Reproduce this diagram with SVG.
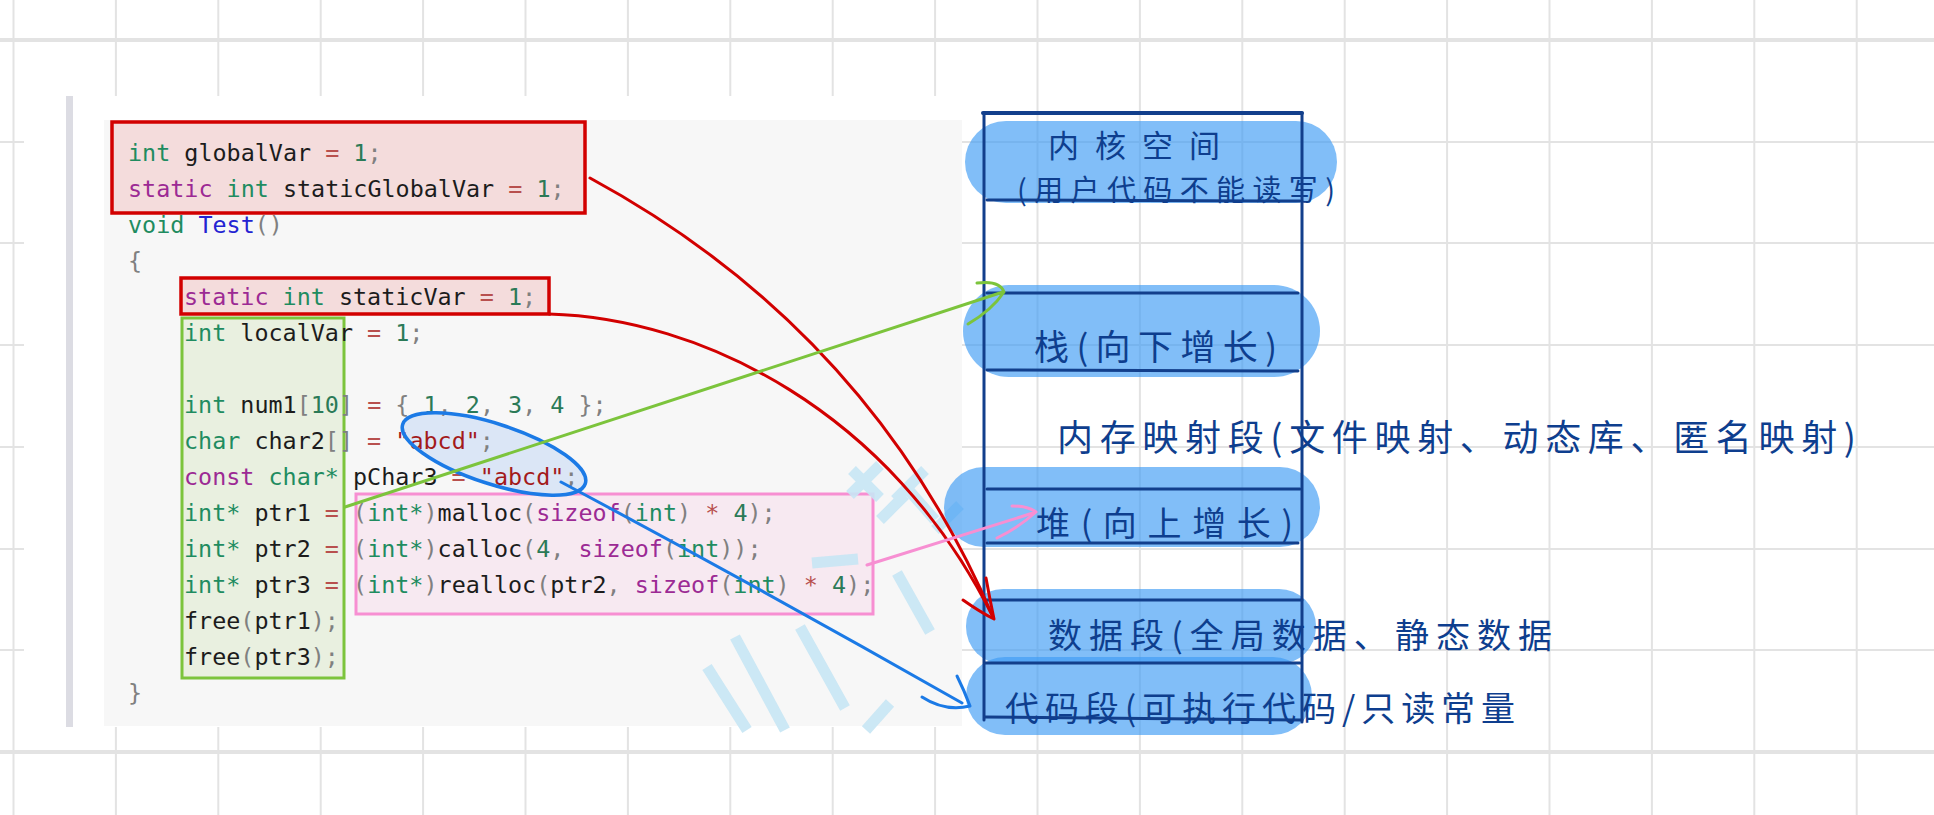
<svg xmlns="http://www.w3.org/2000/svg" width="1934" height="815" viewBox="0 0 1934 815">
<defs>
<style>
.grid line{stroke:#e3e3e3;stroke-width:2}
.code{font-family:"DejaVu Sans Mono","Liberation Mono",monospace;font-size:23.4px;fill:#1c1c1c}
.k{fill:#1f8c60}
.s{fill:#9c2a94}
.f{fill:#2323d2}
.n{fill:#2b7a57}
.o{fill:#b8504e}
.p{fill:#808080}
.str{fill:#a31b1b}
.seg line{stroke:#123f8c;stroke-width:3;stroke-linecap:round}
.blob{fill:#3d9bf5;fill-opacity:0.65}
.hw{font-family:"Noto Sans CJK SC","Noto Sans CJK TC",sans-serif;fill:#0e3e8e}
.wm{stroke:#c6e6f4;stroke-width:11;fill:none;stroke-linecap:butt}
.con{fill:none;stroke-width:3;stroke-linecap:round;stroke-linejoin:round}
</style>
</defs>
<rect width="1934" height="815" fill="#ffffff"/>
<g class="grid" id="grid">
<line x1="13.5" y1="0" x2="13.5" y2="815"/><line x1="115.9" y1="0" x2="115.9" y2="815"/><line x1="218.3" y1="0" x2="218.3" y2="815"/><line x1="320.7" y1="0" x2="320.7" y2="815"/><line x1="423.1" y1="0" x2="423.1" y2="815"/><line x1="525.5" y1="0" x2="525.5" y2="815"/><line x1="627.9" y1="0" x2="627.9" y2="815"/><line x1="730.3" y1="0" x2="730.3" y2="815"/><line x1="832.7" y1="0" x2="832.7" y2="815"/><line x1="935.1" y1="0" x2="935.1" y2="815"/><line x1="1037.5" y1="0" x2="1037.5" y2="815"/><line x1="1139.9" y1="0" x2="1139.9" y2="815"/><line x1="1242.3" y1="0" x2="1242.3" y2="815"/><line x1="1344.7" y1="0" x2="1344.7" y2="815"/><line x1="1447.1" y1="0" x2="1447.1" y2="815"/><line x1="1549.5" y1="0" x2="1549.5" y2="815"/><line x1="1651.9" y1="0" x2="1651.9" y2="815"/><line x1="1754.3" y1="0" x2="1754.3" y2="815"/><line x1="1856.7" y1="0" x2="1856.7" y2="815"/>
<line x1="0" y1="40" x2="1934" y2="40" style="stroke-width:4"/><line x1="0" y1="142" x2="1934" y2="142"/><line x1="0" y1="243" x2="1934" y2="243"/><line x1="0" y1="345" x2="1934" y2="345"/><line x1="0" y1="447" x2="1934" y2="447"/><line x1="0" y1="549" x2="1934" y2="549"/><line x1="0" y1="650" x2="1934" y2="650"/><line x1="0" y1="752" x2="1934" y2="752" style="stroke-width:4"/>
</g>
<g id="code-panel">
<rect x="24" y="96" width="938" height="631" fill="#ffffff"/>
<rect x="104" y="120" width="858" height="606" fill="#f7f7f7"/>
<rect x="66" y="96" width="7" height="631" fill="#dcdce3"/>
</g>
<g id="box-globals"><rect x="112" y="122" width="473" height="91" fill="#f4dcdc" stroke="#d20000" stroke-width="3.5"/></g>
<g id="box-staticvar"><rect x="181" y="278" width="368" height="36" fill="#f4dcdc" stroke="#d20000" stroke-width="3.5"/></g>
<g id="box-locals"><rect x="182" y="318" width="162" height="360" fill="#e9f0e0" stroke="#7cc43c" stroke-width="3"/></g>
<g id="box-heapcalls"><rect x="356" y="494" width="517" height="120" fill="#f7e9f1" stroke="#f78fd2" stroke-width="3"/></g>
<g id="ellipse-strings-fill"><ellipse cx="494" cy="454" rx="96" ry="30" transform="rotate(18 494 454)" fill="#dbe6f6"/></g>
<g id="code-text" class="code" xml:space="preserve">
<text x="128" y="161"><tspan class="k">int</tspan> globalVar <tspan class="o">=</tspan> <tspan class="n">1</tspan><tspan class="p">;</tspan></text>
<text x="128" y="197"><tspan class="s">static</tspan> <tspan class="k">int</tspan> staticGlobalVar <tspan class="o">=</tspan> <tspan class="n">1</tspan><tspan class="p">;</tspan></text>
<text x="128" y="233"><tspan class="k">void</tspan> <tspan class="f">Test</tspan><tspan class="p">()</tspan></text>
<text x="128" y="269"><tspan class="p">{</tspan></text>
<text x="184" y="305"><tspan class="s">static</tspan> <tspan class="k">int</tspan> staticVar <tspan class="o">=</tspan> <tspan class="n">1</tspan><tspan class="p">;</tspan></text>
<text x="184" y="341"><tspan class="k">int</tspan> localVar <tspan class="o">=</tspan> <tspan class="n">1</tspan><tspan class="p">;</tspan></text>
<text x="184" y="413"><tspan class="k">int</tspan> num1<tspan class="p">[</tspan><tspan class="n">10</tspan><tspan class="p">]</tspan> <tspan class="o">=</tspan> <tspan class="p">{</tspan> <tspan class="n">1</tspan><tspan class="p">,</tspan> <tspan class="n">2</tspan><tspan class="p">,</tspan> <tspan class="n">3</tspan><tspan class="p">,</tspan> <tspan class="n">4</tspan> <tspan class="p">};</tspan></text>
<text x="184" y="449"><tspan class="k">char</tspan> char2<tspan class="p">[]</tspan> <tspan class="o">=</tspan> <tspan class="str">"abcd"</tspan><tspan class="p">;</tspan></text>
<text x="184" y="485"><tspan class="s">const</tspan> <tspan class="k">char*</tspan> pChar3 <tspan class="o">=</tspan> <tspan class="str">"abcd"</tspan><tspan class="p">;</tspan></text>
<text x="184" y="521"><tspan class="k">int*</tspan> ptr1 <tspan class="o">=</tspan> <tspan class="p">(</tspan><tspan class="k">int*</tspan><tspan class="p">)</tspan>malloc<tspan class="p">(</tspan><tspan class="s">sizeof</tspan><tspan class="p">(</tspan><tspan class="k">int</tspan><tspan class="p">)</tspan> <tspan class="o">*</tspan> <tspan class="n">4</tspan><tspan class="p">);</tspan></text>
<text x="184" y="557"><tspan class="k">int*</tspan> ptr2 <tspan class="o">=</tspan> <tspan class="p">(</tspan><tspan class="k">int*</tspan><tspan class="p">)</tspan>calloc<tspan class="p">(</tspan><tspan class="n">4</tspan><tspan class="p">,</tspan> <tspan class="s">sizeof</tspan><tspan class="p">(</tspan><tspan class="k">int</tspan><tspan class="p">));</tspan></text>
<text x="184" y="593"><tspan class="k">int*</tspan> ptr3 <tspan class="o">=</tspan> <tspan class="p">(</tspan><tspan class="k">int*</tspan><tspan class="p">)</tspan>realloc<tspan class="p">(</tspan>ptr2<tspan class="p">,</tspan> <tspan class="s">sizeof</tspan><tspan class="p">(</tspan><tspan class="k">int</tspan><tspan class="p">)</tspan> <tspan class="o">*</tspan> <tspan class="n">4</tspan><tspan class="p">);</tspan></text>
<text x="184" y="629">free<tspan class="p">(</tspan>ptr1<tspan class="p">);</tspan></text>
<text x="184" y="665">free<tspan class="p">(</tspan>ptr3<tspan class="p">);</tspan></text>
<text x="128" y="701"><tspan class="p">}</tspan></text>
</g>
<g id="ellipse-strings"><ellipse cx="494" cy="454" rx="96" ry="30" transform="rotate(18 494 454)" fill="none" stroke="#1b7ae6" stroke-width="3.5"/></g>
<g id="watermark" opacity="0.9">
<path class="wm" d="M707 667 L747 730 M735 637 L785 730 M800 627 L845 708 M812 563 L858 559 M890 703 L866 730 M897 573 L930 632 M905 486 L935 520 M852 470 L880 498 M880 465 L850 495 M925 470 L895 500 M880 520 L905 495 M935 530 L960 505"/>
</g>
<g id="mem-blobs">
<rect class="blob" x="965" y="121" width="372" height="82" rx="41"/>
<rect class="blob" x="963" y="285" width="357" height="92" rx="46"/>
<rect class="blob" x="944" y="467" width="376" height="80" rx="40"/>
<rect class="blob" x="966" y="589" width="350" height="75" rx="37"/>
<rect class="blob" x="966" y="657" width="346" height="78" rx="39"/>
</g>
<g id="mem-layout" class="seg">
<line x1="983" y1="113" x2="1302" y2="113" style="stroke-width:4"/>
<line x1="984" y1="113" x2="984" y2="720"/>
<line x1="1302" y1="113" x2="1302" y2="722"/>
<line x1="987" y1="200" x2="1300" y2="201"/>
<line x1="987" y1="293" x2="1298" y2="293"/>
<line x1="987" y1="370" x2="1298" y2="371"/>
<line x1="987" y1="489" x2="1300" y2="489"/>
<line x1="987" y1="543" x2="1298" y2="543"/>
<line x1="985" y1="600" x2="1302" y2="600"/>
<line x1="985" y1="663" x2="1300" y2="663"/>
<line x1="985" y1="717" x2="1302" y2="720"/>
</g>
<g id="seg-kernel"><text class="hw" x="1048" y="157" font-size="31" textLength="172" lengthAdjust="spacing">内核空间</text><text class="hw" x="1017" y="201" font-size="29" textLength="318" lengthAdjust="spacing">(用户代码不能读写)</text></g>
<g id="seg-stack"><text class="hw" x="1034" y="360" font-size="35" textLength="243" lengthAdjust="spacing">栈(向下增长)</text></g>
<g id="seg-mmap"><text class="hw" x="1057" y="451" font-size="36" textLength="799" lengthAdjust="spacing">内存映射段(文件映射、动态库、匿名映射)</text></g>
<g id="seg-heap"><text class="hw" x="1036" y="536" font-size="34" textLength="257" lengthAdjust="spacing">堆(向上增长)</text></g>
<g id="seg-data"><text class="hw" x="1048" y="648" font-size="34" textLength="504" lengthAdjust="spacing">数据段(全局数据、静态数据</text></g>
<g id="seg-code"><text class="hw" x="1005" y="721" font-size="34" textLength="510" lengthAdjust="spacing">代码段(可执行代码/只读常量</text></g>
<g id="connectors">
<path class="con" stroke="#d20000" d="M590 178 Q870 330 993 617"/>
<path class="con" stroke="#d20000" d="M549 314 C700 318 890 410 993 617"/>
<path class="con" stroke="#d20000" d="M963 600 Q980 612 994 619 Q990 600 986 578"/>
<path class="con" stroke="#7cc43c" d="M345 507 L1003 292"/>
<path class="con" stroke="#7cc43c" d="M977 283 Q1000 280 1004 292 Q992 310 968 324"/>
<path class="con" stroke="#f78fd2" d="M867 565 L1033 513"/>
<path class="con" stroke="#f78fd2" d="M1012 506 Q1028 506 1036 512 Q1018 528 997 538"/>
<path class="con" stroke="#1b7ae6" d="M561 482 Q760 588 962 703"/>
<path class="con" stroke="#1b7ae6" d="M922 697 Q945 712 970 706 Q964 690 957 676"/>
</g>
</svg>
